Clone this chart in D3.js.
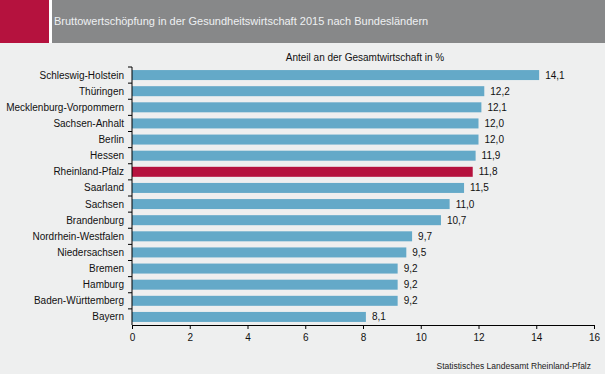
<!DOCTYPE html>
<html>
<head>
<meta charset="utf-8">
<script src="https://cdn.jsdelivr.net/npm/d3@7"></script>
<style>
	body { margin: 0; background: #eeefef; }
	text { font-family: Arial, "Liberation Sans", sans-serif; }
</style>
</head>
<body>
<script>

// data
var laender = ['Schleswig-Holstein', 'Thüringen', 'Mecklenburg-Vorpommern', 'Sachsen-Anhalt', 'Berlin', 'Hessen',
	'Rheinland-Pfalz', 'Saarland', 'Sachsen', 'Brandenburg', 'Nordrhein-Westfalen', 'Niedersachsen',
	'Bremen', 'Hamburg', 'Baden-Württemberg', 'Bayern'];
var anteil = [14.1, 12.2, 12.1, 12.0, 12.0, 11.9, 11.8, 11.5, 11.0, 10.7, 9.7, 9.5, 9.2, 9.2, 9.2, 8.1];
var xTicks = [0, 2, 4, 6, 8, 10, 12, 14, 16];
var highlight = 'Rheinland-Pfalz';

var width = 605, height = 374;
var svg = d3.select('body').append('svg')
	.attr('width', width)
	.attr('height', height);

svg.append('rect').attr('width', width).attr('height', height).attr('fill', '#eeefef');

// header
svg.append('rect').attr('x', 0).attr('y', 0).attr('width', 49).attr('height', 43).attr('fill', '#b5123e');
svg.append('rect').attr('x', 49).attr('y', 0).attr('width', 3).attr('height', 43).attr('fill', '#ffffff');
svg.append('rect').attr('x', 52).attr('y', 0).attr('width', width - 52).attr('height', 43).attr('fill', '#878889');
svg.append('text')
	.attr('x', 54).attr('y', 25)
	.attr('fill', '#eef0f2')
	.style('font-size', '11px')
	.text('Bruttowertschöpfung in der Gesundheitswirtschaft 2015 nach Bundesländern');

var x = d3.scaleLinear().domain([0, 16]).range([132, 594]);
var y = d3.scaleBand().domain(laender).range([67, 325]).paddingInner(0.38).paddingOuter(0.19);

var data = laender.map(function(d, i){ return { land: d, wert: anteil[i] }; });

svg.append('text')
	.attr('x', 365).attr('y', 61)
	.attr('text-anchor', 'middle')
	.style('font-size', '10px')
	.attr('fill', '#111')
	.text('Anteil an der Gesamtwirtschaft in %');

// bars
svg.append('g').selectAll('rect')
	.data(data)
	.enter().append('rect')
	.attr('x', x(0))
	.attr('y', function(d){ return y(d.land); })
	.attr('width', function(d){ return x(d.wert) - x(0); })
	.attr('height', y.bandwidth())
	.attr('fill', function(d){ return d.land === highlight ? '#b5123e' : '#64a9c8'; });

// value labels
svg.append('g').selectAll('text')
	.data(data)
	.enter().append('text')
	.attr('x', function(d){ return x(d.wert) + 6; })
	.attr('y', function(d){ return y(d.land) + y.bandwidth() / 2; })
	.attr('dy', '0.35em')
	.style('font-size', '10px')
	.attr('fill', '#111')
	.text(function(d){ return d3.format('.1f')(d.wert).replace('.', ','); });

// x axis
var xAxis = svg.append('g')
	.attr('transform', 'translate(0,325)')
	.call(d3.axisBottom(x).tickValues(xTicks).tickSize(4).tickFormat(d3.format('d')));
xAxis.select('.domain').attr('stroke', '#000');
xAxis.selectAll('text').style('font-size', '10px').attr('fill', '#111').attr('dy', '0.9em');

// y axis: line + ticks between categories
var yAxis = svg.append('g');
yAxis.append('line')
	.attr('x1', x(0)).attr('x2', x(0))
	.attr('y1', 67).attr('y2', 325)
	.attr('stroke', '#000');
var step = y.step();
yAxis.selectAll('line.tick')
	.data(d3.range(laender.length))
	.enter().append('line')
	.attr('class', 'tick')
	.attr('x1', x(0) - 4).attr('x2', x(0))
	.attr('y1', function(i){ return 67 + i * step; })
	.attr('y2', function(i){ return 67 + i * step; })
	.attr('stroke', '#000');
yAxis.selectAll('text')
	.data(laender)
	.enter().append('text')
	.attr('x', 124)
	.attr('y', function(d){ return y(d) + y.bandwidth() / 2; })
	.attr('dy', '0.35em')
	.attr('text-anchor', 'end')
	.style('font-size', '10px')
	.attr('fill', '#111')
	.text(function(d){ return d; });

// source
svg.append('text')
	.attr('x', 591).attr('y', 369)
	.attr('text-anchor', 'end')
	.style('font-size', '8.5px')
	.attr('fill', '#222')
	.text('Statistisches Landesamt Rheinland-Pfalz');

</script>
</body>
</html>
